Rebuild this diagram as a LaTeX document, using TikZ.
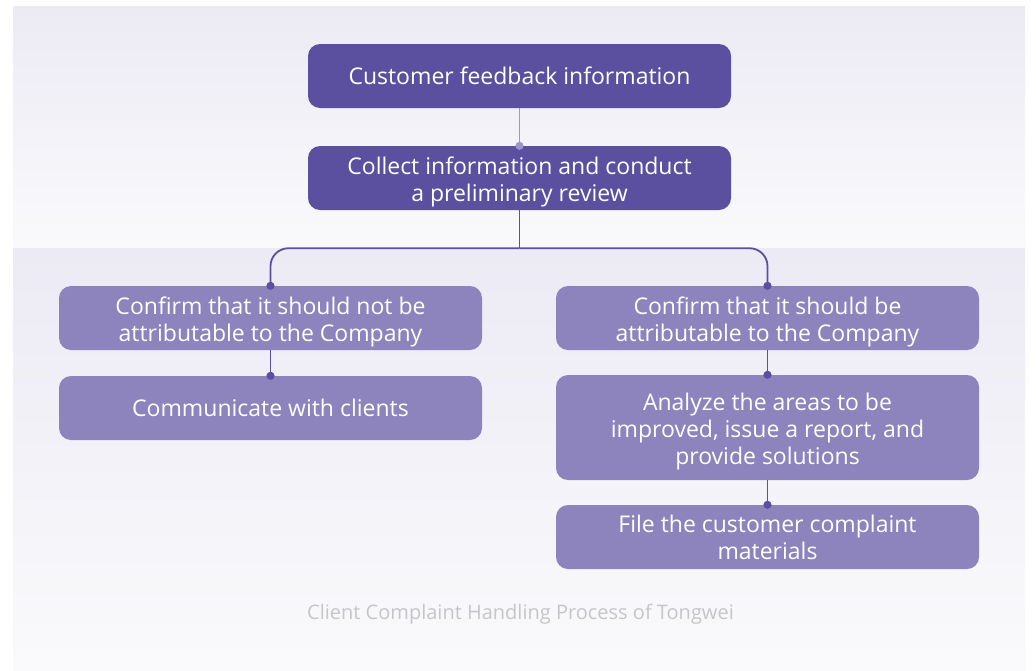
\documentclass[tikz,border=0pt]{standalone}
\usepackage{fontspec}
\setmainfont{Open Sans}
\usepackage{xcolor}
\usetikzlibrary{arrows.meta, positioning, calc}

\definecolor{deep}{HTML}{5B50A0}
\definecolor{soft}{HTML}{8D84BE}
\definecolor{pale}{HTML}{9D96CA}
\definecolor{bgtop}{HTML}{ECEAF4}
\definecolor{bgbot}{HTML}{FAFAFC}
\definecolor{capt}{HTML}{C6C6CA}

% extra room above the first line of a wrapped label
\newcommand\toppad{\rule{0pt}{26pt}}

\begin{document}
\begin{tikzpicture}[x=1pt, y=-1pt, >=Stealth,
  head/.style  = {rectangle, rounded corners=12pt, fill=deep, text=white,
                  align=center, minimum width=423pt, minimum height=64pt,
                  font=\fontsize{23}{27}\selectfont, inner sep=0pt},
  item/.style  = {head, fill=soft},
  link/.style  = {draw=deep, line width=1.8pt, -{Circle[length=8pt]},
                  shorten >=-4pt},
  branch/.style = {link, rounded corners=18pt}
]
%% Background panels
\useasboundingbox (0,0) rectangle (1036,670);
\fill[white] (0,0) rectangle (1036,670);
\shade[top color=bgtop, bottom color=bgbot] (13,6) rectangle (1025,248);
\shade[top color=bgtop, bottom color=bgbot] (13,248) rectangle (1025,670);

%% --- Top chain ---
\node[head] (feedback) at (519.5,76)  {Customer feedback information};
\node[head] (collect)  at (519.5,178) {\toppad Collect information and conduct\\a preliminary review};

%% --- Left branch ---
\node[item] (notours) at (270.5,318) {\toppad Confirm that it should not be\\attributable to the Company};
\node[item] (talk)    at (270.5,408) {Communicate with clients};

%% --- Right branch ---
\node[item] (ours)    at (767.5,318) {\toppad Confirm that it should be\\attributable to the Company};
\node[item, minimum height=105pt] (analyze) at (767.5,427.5)
      {\toppad Analyze the areas to be\\improved, issue a report, and\\provide solutions};
\node[item] (archive) at (767.5,537) {File the customer complaint\\materials};

%% --- Caption ---
\node[text=capt, font=\fontsize{20}{24}\selectfont] (caption) at (520.5,614)
      {Client Complaint Handling Process of Tongwei};

%% --- Connections ---
\draw[link, draw=pale] (feedback) -- (collect);
\coordinate (split) at ($(collect.south)+(0,38)$);
\draw[draw=deep, line width=1.8pt] (collect.south) -- (split);
\draw[branch] (split) -| (notours.north);
\draw[branch] (split) -| (ours.north);
\draw[link] (notours) -- (talk);
\draw[link] (ours) -- (analyze);
\draw[link] (analyze) -- (archive);
\end{tikzpicture}
\end{document}
